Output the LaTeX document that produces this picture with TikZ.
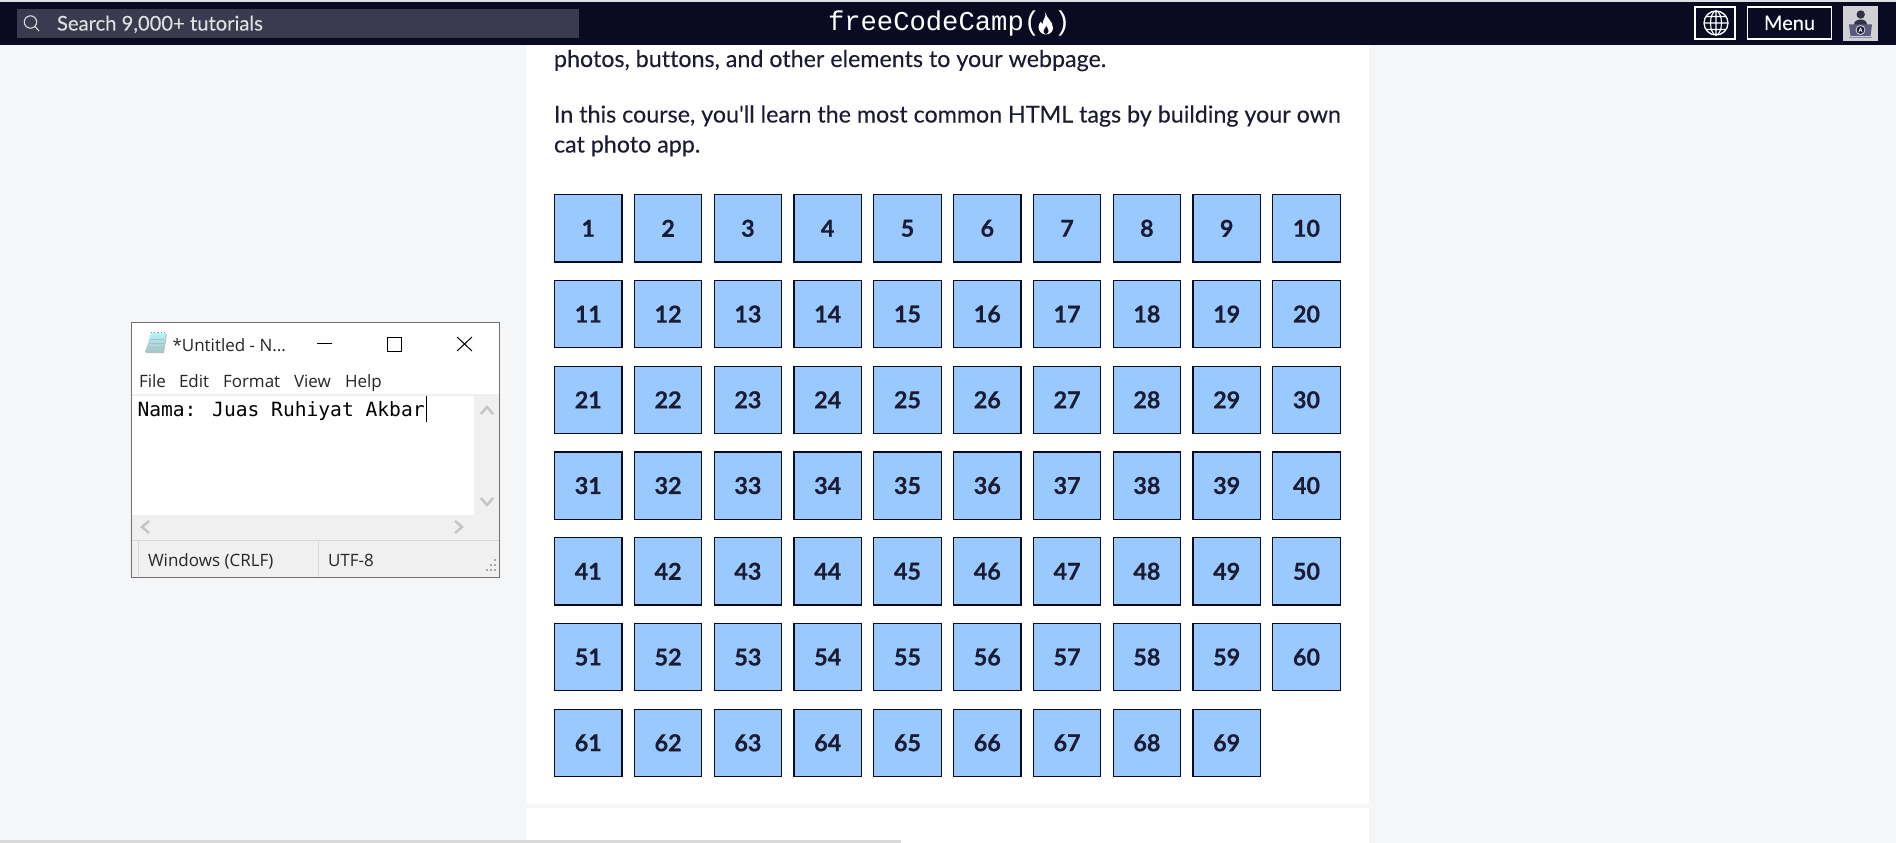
\documentclass[tikz,border=0pt]{standalone}
\usepackage{fontspec}
\setmainfont{Lato}[Ligatures=NoCommon, FakeBold=0.12, BoldFeatures={FakeBold=0.5}]
\newfontfamily\uifont{Open Sans}
\newfontfamily\padfont{DejaVu Sans Mono}
\newfontfamily\logofont{Liberation Mono}
\definecolor{navybar}{HTML}{0A0A23}
\definecolor{searchbg}{HTML}{3B3B4F}
\definecolor{pagebg}{HTML}{F5F6F7}
\definecolor{bodyink}{HTML}{1B1B32}
\definecolor{tilefill}{HTML}{99C9FF}
\definecolor{padchrome}{HTML}{F0F0F0}
\definecolor{padedge}{HTML}{707070}
\definecolor{padarrow}{HTML}{C4C4C4}
\definecolor{avatarbg}{HTML}{D0D0D5}
\definecolor{avatarpad}{HTML}{5A5A80}
\begin{document}
\begin{tikzpicture}[
  x=1pt, y=-1pt,
  every node/.style={
    inner sep=0pt, outer sep=0pt,
  },
  tile/.style={
    draw=navybar, fill=tilefill, line width=1.2pt, minimum size=67.3pt,
    text=bodyink, font=\fontsize{23.3}{26}\selectfont\bfseries,
  },
  bodytext/.style={
    anchor=base west, text=bodyink, font=\fontsize{23.25}{30}\selectfont,
  },
  padtext/.style={
    anchor=base west, text=black!85, font=\uifont\fontsize{17}{20}\selectfont,
  },
  barbutton/.style={
    draw=white, line width=1.2pt,
  },
  chevron/.style={
    draw=padarrow, line width=2.4pt,
  }
  ]
  \fill[pagebg] (0,0) rectangle (1896,843);
  \useasboundingbox (0,0) rectangle (1896,843);
  \fill[white] (526,45) rectangle (1369,843);
  \fill[pagebg] (526,804) rectangle (1369,808);
  \fill[black!15] (0,840) rectangle (901,843);

  \fill[black!13] (0,0) rectangle (1896,2);
  \fill[navybar] (0,2) rectangle (1896,45);
  \fill[searchbg] (17,9) rectangle (579,38);
  \draw[white!85!black, line width=1.1pt] (30.5,22) circle (6.2) (35,26.5) -- (39,31);
  \node[anchor=base west, text=white!88!black, font=\fontsize{20.2}{22}\selectfont] (searchlabel) at (57,30.5) {Search 9,000+ tutorials};
  \node[anchor=base west, text=white, font=\logofont\fontsize{27.2}{30}\selectfont] (logotext) at (828,31) {freeCodeCamp(};
  \node[anchor=base west, text=white, font=\logofont\fontsize{27.2}{30}\selectfont] (logoclose) at (1054,31) {)};
  \fill[white] (1045.5,12.5) .. controls (1046,18) and (1053,21) .. (1053,28) .. controls (1053,31.5) and (1050,34.5) .. (1046,34.5)
    .. controls (1041.5,34.5) and (1038.5,31) .. (1038.5,27) .. controls (1038.5,25) and (1039.5,23) .. (1041,21.5) .. controls (1041.5,23.5) and (1042,24) .. (1042.5,24) .. controls (1042.5,20) and (1046,18) .. (1045.5,12.5) -- cycle;
  \fill[navybar] (1046.5,26) .. controls (1047,28) and (1048.5,29) .. (1048.5,31) .. controls (1048.5,32.5) and (1047.5,34) .. (1046,34) .. controls (1044.5,34) and (1043.5,32.5) .. (1043.5,31) .. controls (1043.5,29) and (1046,28) .. (1046.5,26) -- cycle;

  \draw[barbutton] (1695,7) rectangle (1735,39);
  \draw[white, line width=1.3pt] (1716,23) circle (12);
  \draw[white, line width=1.1pt] (1716,23) ellipse (5.5 and 12) (1716,11) -- (1716,35) (1704,23) -- (1728,23) (1706,16.5) -- (1726,16.5) (1706,29.5) -- (1726,29.5);
  \node[barbutton, minimum width=84pt, minimum height=32pt] (menubutton) at (1789.5,23) {};
  \node[anchor=base, text=white, font=\fontsize{20}{24}\selectfont] (menulabel) at (1789.5,30) {Menu};
  \fill[avatarbg] (1843,6) rectangle (1878,41);
  \fill[bodyink!90] (1860.7,14.5) circle (4.2);
  \fill[bodyink!90] (1854,25) .. controls (1854,21) and (1857,19.5) .. (1860.7,19.5) .. controls (1864,19.5) and (1867,21) .. (1867,25) -- cycle;
  \fill[avatarpad] (1849,24.5) -- (1872,24.5) -- (1870.5,36) -- (1850.5,36) -- cycle;
  \fill[avatarpad!70] (1849,37) rectangle (1872,38.2);
  \draw[white!85!black, fill=bodyink, line width=.8pt] (1860.5,30) circle (4.5);
  \node[text=white, font=\fontsize{6}{7}\selectfont] (avatarmark) at (1860.5,30) {A};

  \node[bodytext] (introline) at (554,67) {photos, buttons, and other elements to your webpage.};
  \node[bodytext] (courseline) at (554,122.5) {In this course, you\textquotesingle ll learn the most common HTML tags by building your own};
  \node[bodytext] (catline) at (554,152.5) {cat photo app.};

  \foreach \n in {1,...,69} {
    \pgfmathtruncatemacro{\col}{mod(\n-1,10)}
    \pgfmathtruncatemacro{\row}{(\n-1)/10}
    \node[tile] (tile\n) at ({588.3+79.8*\col},{228.3+85.75*\row}) {\n};
  }

  \fill[white] (131,322) rectangle (499,577);
  \fill[padchrome] (131,394) rectangle (499,577);
  \fill[white] (132,396) rectangle (474,515);
  \draw[black!15, line width=1pt] (131,540) -- (499,540) (138,541) -- (138,577) (318,541) -- (318,577);
  \draw[padedge, line width=1pt] (131,322) rectangle (499,577);
  \fill[black!25] (152,334) -- (167,334) -- (164,353) -- (146,353) -- cycle;
  \shade[top color=blue!15!cyan!30!white, bottom color=cyan!35!black!35!white] (151,333) -- (166,333) -- (163,352) -- (145,352) -- cycle;
  \draw[black!45, line width=1.2pt, dotted] (151,332.5) -- (166,332.5);
  \draw[cyan!40!black!40, line width=.5pt] (150,339) -- (164,339) (149.5,343) -- (164,343) (149,347) -- (163,347);
  \node[padtext] (padtitle) at (172.5,351) {*Untitled - N...};
  \draw[black, line width=1pt] (317,343) -- (332,343);
  \draw[black, line width=1pt] (387,337) rectangle (401,351);
  \draw[black, line width=1pt] (457,337) -- (472,351) (472,337) -- (457,351);
  \node[padtext] (menufile) at (139,387) {File};
  \node[padtext] (menuedit) at (179,387) {Edit};
  \node[padtext] (menuformat) at (223,387) {Format};
  \node[padtext] (menuview) at (294,387) {View};
  \node[padtext] (menuhelp) at (345,387) {Help};
  \node[anchor=base west, text=black, font=\padfont\fontsize{19.6}{24}\selectfont] (padbody) at (137.5,416) {Nama: Juas Ruhiyat Akbar};
  \draw[black, line width=1pt] (426,396) -- (426,422);
  \draw[chevron] (481,414) -- (487,407) -- (493,414);
  \draw[chevron] (481,498) -- (487,505) -- (493,498);
  \draw[chevron] (149,521) -- (142,527) -- (149,533);
  \draw[chevron] (455,521) -- (462,527) -- (455,533);
  \node[padtext] (statuscrlf) at (148,566) {Windows (CRLF)};
  \node[padtext] (statusutf) at (328,566) {UTF-8};
  \foreach \px/\py in {495/560, 491/565, 495/565, 487/570, 491/570, 495/570} {
    \fill[black!35] (\px-1,\py-1) rectangle (\px+1,\py+1);
  }
\end{tikzpicture}
\end{document}
